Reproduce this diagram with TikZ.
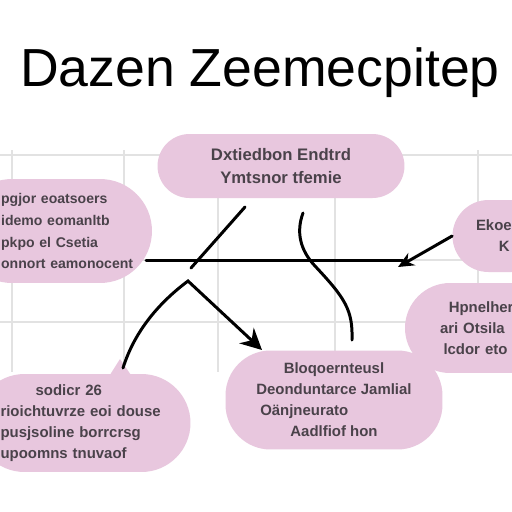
\documentclass[tikz,border=0pt]{standalone}
\usepackage{fontspec}
\setmainfont{Liberation Sans}
\usetikzlibrary{arrows.meta}
\definecolor{boxpink}{RGB}{232,199,222}
\definecolor{gridgray}{RGB}{226,226,226}
\definecolor{boxtext}{RGB}{74,66,74}

\begin{document}
\begin{tikzpicture}[x=0.02cm,y=-0.02cm,
  bubble/.style={fill=boxpink,draw=none,text=boxtext,inner sep=0pt,
    font=\bfseries\fontsize{8.5}{12}\selectfont},
  gridline/.style={gridgray,line width=0.9pt},
  link/.style={line width=1.7pt,line cap=round}]
\useasboundingbox (0,0) rectangle (512,512);
\clip (0,0) rectangle (512,512);
\fill[white] (0,0) rectangle (512,512);

% grid behind
\draw[gridline] (0,155) -- (512,155);
\draw[gridline] (0,260) -- (512,260);
\draw[gridline] (0,322) -- (512,322);
\foreach \gx in {12,124,218,335,478}
  \draw[gridline] (\gx,150) -- (\gx,372);

% title
\node[font=\fontsize{30.5}{36}\selectfont] (title) at (260,73) {Dazen Zeemecpitep};

% bubbles
\node[bubble,minimum width=4.94cm,minimum height=1.28cm,rounded corners=0.64cm,
  align=center,font=\bfseries\fontsize{9.5}{13.5}\selectfont] (goal) at (281,166)
  {Dxtiedbon Endtrd\\Ymtsnor tfemie};
\node[bubble,minimum width=3.84cm,minimum height=2.08cm,rounded corners=1.04cm,
  align=left,text width=3.6cm,font=\bfseries\fontsize{8}{12.5}\selectfont] (cause) at (56,231)
  {\hspace*{20pt}pgjor eoatsoers\\\hspace*{20pt}idemo eomanltb\\
   \hspace*{20pt}pkpo el Csetia\\\hspace*{20pt}onnort eamonocent};
\node[bubble,minimum width=1.9cm,minimum height=1.44cm,rounded corners=0.72cm,
  align=left,text width=0.96cm] (effect) at (500,236)
  {Ekoe\\\hspace*{13pt}K};
\node[bubble,minimum width=3.4cm,minimum height=1.8cm,rounded corners=0.9cm,
  align=left,text width=2cm] (detail) at (490,328)
  {\hspace*{5pt}Hpnelher\\ari Otsila\\\hspace*{2pt}lcdor eto};
\node[bubble,minimum width=4.34cm,minimum height=1.98cm,rounded corners=0.9cm,
  align=center] (result) at (334,400)
  {Bloqoernteusl\\Deonduntarce Jamlial\\\makebox[2.95cm][l]{Oänjneurato}\\Aadlfiof hon};
\node[bubble,minimum width=4.3cm,minimum height=1.96cm,rounded corners=0.98cm,
  align=left,text width=3.3cm] (note) at (83,423)
  {\hspace*{20pt}sodicr 26\\rioichtuvrze eoi douse\\pusjsoline borrcrsg\\upoomns tnuvaof};
\fill[boxpink] (108,378) -- (120,359) -- (133,378) -- cycle;

% free ends
\coordinate (hstart) at (146,260);
\coordinate (hend) at (403,260);
\coordinate (slashtop) at (245,207);
\coordinate (slashbot) at (191,268);
\coordinate (wavetop) at (303,213);
\coordinate (wavebot) at (352,340);
\coordinate (peak) at (188,281);
\coordinate (tailend) at (123,368);
\coordinate (resulttop) at (262,350);
\coordinate (effecttip) at (398,267);

% connectors
\draw[link] (hstart) -- (hend);
\draw[link,-{Stealth[length=9pt,width=8pt]}] (effect.west) -- (effecttip);
\draw[link] (slashtop) -- (slashbot);
\draw[link] (wavetop) .. controls (296,232) and (300,250) .. (315,266)
  .. controls (345,298) and (353,310) .. (wavebot);
\draw[link,-{Stealth[length=12pt,width=12pt]}] (tailend)
  .. controls (135,330) and (160,302) .. (peak) -- (resulttop);
\end{tikzpicture}
\end{document}
